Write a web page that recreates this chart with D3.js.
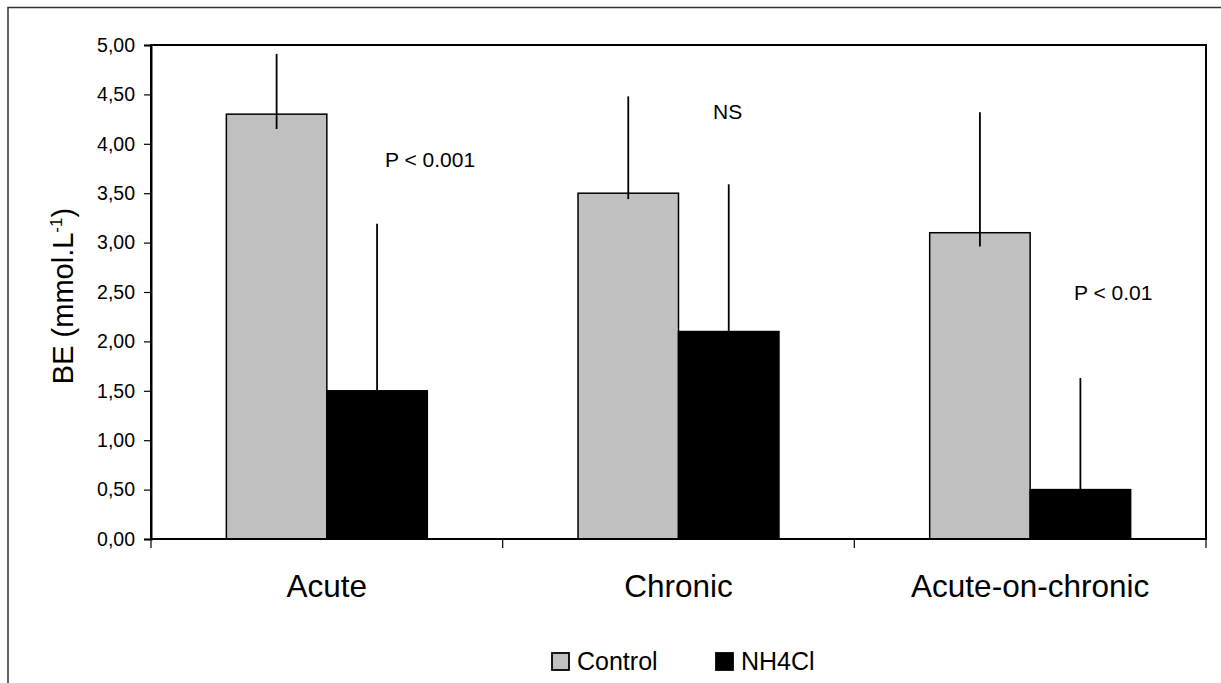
<!DOCTYPE html>
<html>
<head>
<meta charset="utf-8">
<script src="https://cdn.jsdelivr.net/npm/d3@7"></script>
<style>
  body { margin: 0; background: #fff; }
  svg { display: block; font-family: Arial, "Liberation Sans", sans-serif; }
</style>
</head>
<body>
<svg id="chart"></svg>
<script>
// Data
const categories = ['Acute', 'Chronic', 'Acute-on-chronic'];
const seriesNames = ['Control', 'NH4Cl'];
const controlValues = [4.30, 3.50, 3.10];
const nh4clValues = [1.50, 2.10, 0.50];
// error bar ends (upper end, and the short stub drawn inside the bar)
const controlErrTop = [4.91, 4.48, 4.32];
const controlErrLow = [4.15, 3.44, 2.96];
const nh4clErrTop = [3.19, 3.59, 1.63];
const nh4clErrLow = [1.50, 2.10, 0.50];
const yTicks = [0, 0.5, 1, 1.5, 2, 2.5, 3, 3.5, 4, 4.5, 5];
const annotations = ['P < 0.001', 'NS', 'P < 0.01'];
const annotationY = [3.77, 4.25, 2.42];

const width = 1221, height = 683;
const plot = { left: 151, top: 45, right: 1206, bottom: 539 };

const svg = d3.select('#chart')
    .attr('width', width)
    .attr('height', height);

// outer chart-area frame (runs off the right / bottom edge)
svg.append('rect')
    .attr('x', 8).attr('y', 7.5)
    .attr('width', 1240).attr('height', 700)
    .attr('fill', 'none')
    .attr('stroke', '#333')
    .attr('stroke-width', 1.5);

const x0 = d3.scaleBand()
    .domain(categories)
    .range([plot.left, plot.right]);

const x1 = d3.scaleBand()
    .domain(seriesNames)
    .range([0, x0.bandwidth()])
    .paddingInner(0)
    .paddingOuter(0.75);

const y = d3.scaleLinear()
    .domain([0, 5])
    .range([plot.bottom, plot.top]);

const fills = { 'Control': '#c0c0c0', 'NH4Cl': '#000000' };

const rows = categories.map((c, i) => ({
    cat: c,
    bars: [
        { s: 'Control', v: controlValues[i], top: controlErrTop[i], low: controlErrLow[i] },
        { s: 'NH4Cl', v: nh4clValues[i], top: nh4clErrTop[i], low: nh4clErrLow[i] }
    ]
}));

// plot area border
svg.append('rect')
    .attr('x', plot.left).attr('y', plot.top)
    .attr('width', plot.right - plot.left)
    .attr('height', plot.bottom - plot.top)
    .attr('fill', '#fff')
    .attr('stroke', '#000')
    .attr('stroke-width', 2);

// bars
const groups = svg.append('g').selectAll('g')
    .data(rows)
    .enter()
    .append('g')
    .attr('transform', d => `translate(${x0(d.cat)},0)`);

groups.selectAll('rect')
    .data(d => d.bars)
    .enter()
    .append('rect')
    .attr('x', d => x1(d.s))
    .attr('y', d => y(d.v))
    .attr('width', x1.bandwidth())
    .attr('height', d => y(0) - y(d.v))
    .attr('fill', d => fills[d.s])
    .attr('stroke', '#000')
    .attr('stroke-width', 1.5);

// error bars
groups.selectAll('line.err')
    .data(d => d.bars)
    .enter()
    .append('line')
    .attr('class', 'err')
    .attr('x1', d => x1(d.s) + x1.bandwidth() / 2)
    .attr('x2', d => x1(d.s) + x1.bandwidth() / 2)
    .attr('y1', d => y(d.top))
    .attr('y2', d => y(d.low))
    .attr('stroke', '#000')
    .attr('stroke-width', 1.8);

// y axis
const yAxis = svg.append('g')
    .attr('transform', `translate(${plot.left},0)`)
    .call(d3.axisLeft(y)
        .tickValues(yTicks)
        .tickSize(7)
        .tickPadding(9)
        .tickFormat(d => d3.format('.2f')(d).replace('.', ',')));
yAxis.select('.domain').attr('stroke', '#000').attr('stroke-width', 2);
yAxis.selectAll('.tick line').attr('stroke', '#000').attr('stroke-width', 1.2);
yAxis.selectAll('.tick text')
    .attr('fill', '#000')
    .style('font-size', '19.5px')
    .style('font-family', 'Arial, "Liberation Sans", sans-serif');

// x axis: ticks on category boundaries, labels centred
const xAxisG = svg.append('g').attr('class', 'x-axis');
xAxisG.append('line')
    .attr('x1', plot.left).attr('x2', plot.right)
    .attr('y1', plot.bottom).attr('y2', plot.bottom)
    .attr('stroke', '#000').attr('stroke-width', 2);
const boundaries = categories.map(c => x0(c)).concat([plot.right]);
xAxisG.selectAll('line.tick')
    .data(boundaries)
    .enter()
    .append('line')
    .attr('class', 'tick')
    .attr('x1', d => d).attr('x2', d => d)
    .attr('y1', plot.bottom).attr('y2', plot.bottom + 9)
    .attr('stroke', '#000').attr('stroke-width', 1.2);
xAxisG.selectAll('text')
    .data(categories)
    .enter()
    .append('text')
    .attr('x', d => x0(d) + x0.bandwidth() / 2)
    .attr('y', 597)
    .attr('text-anchor', 'middle')
    .style('font-size', '31.5px')
    .attr('fill', '#000')
    .text(d => d);

// y axis title
const yTitle = svg.append('text')
    .attr('transform', `translate(73,${(plot.top + plot.bottom) / 2 + 4}) rotate(-90)`)
    .attr('text-anchor', 'middle')
    .style('font-size', '29px')
    .attr('fill', '#000');
yTitle.append('tspan').text('BE (mmol.L');
yTitle.append('tspan').attr('dy', -11).style('font-size', '17px').text('-1');
yTitle.append('tspan').attr('dy', 11).text(')');

// significance labels
svg.append('g').selectAll('text')
    .data(annotations)
    .enter()
    .append('text')
    .attr('x', (d, i) => [385, 713, 1074][i])
    .attr('y', (d, i) => y(annotationY[i]))
    .style('font-size', '21px')
    .attr('fill', '#000')
    .text(d => d);

// legend
const legend = svg.append('g').selectAll('g')
    .data(seriesNames)
    .enter()
    .append('g')
    .attr('transform', (d, i) => `translate(${[552, 716][i]},653)`);
legend.append('rect')
    .attr('width', 17).attr('height', 17)
    .attr('fill', d => fills[d])
    .attr('stroke', '#000')
    .attr('stroke-width', 1.8);
legend.append('text')
    .attr('x', 25).attr('y', 17)
    .style('font-size', '25px')
    .attr('fill', '#000')
    .text(d => d);
</script>
</body>
</html>
